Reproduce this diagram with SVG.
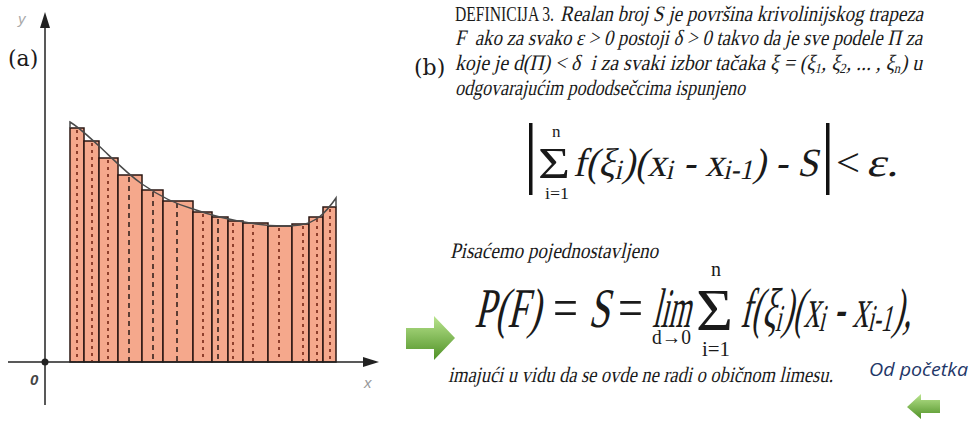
<svg xmlns="http://www.w3.org/2000/svg" width="974" height="421" viewBox="0 0 974 421">
<defs>
<style>
.bar{fill:#f5a88c;stroke:#2a1612;stroke-width:1.5}
.dd{stroke:#8e3f2c;stroke-width:2;stroke-dasharray:3 4;fill:none}
.dk{stroke:#2a1a16;stroke-width:1.5;stroke-dasharray:5 4;fill:none}
.ser{font-family:"Liberation Serif","Times New Roman",serif;fill:#1a1a1a;white-space:pre}
.lab{font-family:"DejaVu Serif","Liberation Serif",serif;font-size:22px;fill:#1a1a1a}
.ax{font-family:"Liberation Sans",Arial,sans-serif;font-style:italic;font-size:15px}
</style>
<linearGradient id="g" x1="0" y1="0" x2="0" y2="1">
<stop offset="0" stop-color="#b9e48e"/>
<stop offset="1" stop-color="#4f9126"/>
</linearGradient>
</defs>
<rect width="974" height="421" fill="#ffffff"/>

<g id="graph">
<g id="bars">
<rect class="bar" x="70" y="128" width="14" height="234"/>
<rect class="bar" x="84" y="141" width="15" height="221"/>
<rect class="bar" x="99" y="158" width="19" height="204"/>
<rect class="bar" x="118" y="175" width="24" height="187"/>
<rect class="bar" x="142" y="190" width="21" height="172"/>
<rect class="bar" x="163" y="201" width="30" height="161"/>
<rect class="bar" x="193" y="212" width="19" height="150"/>
<rect class="bar" x="212" y="217" width="16" height="145"/>
<rect class="bar" x="228" y="221" width="15" height="141"/>
<rect class="bar" x="243" y="223" width="25" height="139"/>
<rect class="bar" x="268" y="226" width="24" height="136"/>
<rect class="bar" x="292" y="224" width="17" height="138"/>
<rect class="bar" x="309" y="217" width="14" height="145"/>
<rect class="bar" x="323" y="207" width="13" height="155"/>
</g>
<g id="samples">
<line class="dd" x1="77" y1="130" x2="77" y2="362"/>
<line class="dd" x1="92" y1="143" x2="92" y2="362"/>
<line class="dd" x1="108" y1="160" x2="108" y2="362"/>
<line class="dk" x1="129" y1="177" x2="129" y2="362"/>
<line class="dk" x1="153" y1="192" x2="153" y2="362"/>
<line class="dk" x1="177" y1="203" x2="177" y2="362"/>
<line class="dd" x1="203" y1="214" x2="203" y2="362"/>
<line class="dk" x1="218" y1="219" x2="218" y2="362"/>
<line class="dd" x1="233" y1="223" x2="233" y2="362"/>
<line class="dd" x1="253" y1="225" x2="253" y2="362"/>
<line class="dd" x1="279" y1="228" x2="279" y2="362"/>
<line class="dd" x1="303" y1="226" x2="303" y2="362"/>
<line class="dd" x1="317" y1="219" x2="317" y2="362"/>
<line class="dd" x1="330" y1="209" x2="330" y2="362"/>
</g>
<path id="curve" d="M70,128 L70,122 C80,128 90,138 99,146 C110,156 125,172 142,184 C155,193 175,204 193,209 C210,215 230,220 250,223 C268,226 285,227 300,225 C315,223 325,214 336,198 L336,207" fill="none" stroke="#4a4a4a" stroke-width="1.5"/>
<g id="axes" stroke="#222" stroke-width="1.5">
<line x1="45" y1="405" x2="45" y2="24"/>
<line x1="8" y1="362" x2="368" y2="362"/>
</g>
<polygon points="45,12 40,28 50,28" fill="#222"/>
<polygon points="379,362 363,357 363,367" fill="#222"/>
<circle cx="45" cy="362" r="3.5" fill="#222"/>
<text class="ax" x="18" y="24" fill="#aaa">y</text>
<text class="ax" x="30" y="385" fill="#444" font-weight="bold">0</text>
<text class="ax" x="364" y="388" fill="#999">x</text>
<text class="lab" x="8" y="66">(a)</text>
</g>

<g id="definition">
<text class="lab" x="414" y="75">(b)</text>
<text class="ser" font-size="22" x="455" y="21" textLength="99" lengthAdjust="spacingAndGlyphs">DEFINICIJA 3.</text>
<g transform="translate(560,21) skewX(-13)"><text class="ser" font-size="22" x="0" y="0" textLength="363" lengthAdjust="spacingAndGlyphs">Realan broj S je površina krivolinijskog trapeza</text></g>
<g transform="translate(455,45) skewX(-13)"><text class="ser" font-size="22" x="0" y="0" textLength="467" lengthAdjust="spacingAndGlyphs">F  ako za svako ε &gt; 0 postoji δ &gt; 0 takvo da je sve podele Π za</text></g>
<g transform="translate(455,70) skewX(-13)"><text class="ser" font-size="22" x="0" y="0" textLength="467" lengthAdjust="spacingAndGlyphs">koje je d(Π) &lt; δ  i za svaki izbor tačaka ξ = (ξ<tspan font-size="14" dy="3">1</tspan><tspan dy="-3">, ξ</tspan><tspan font-size="14" dy="3">2</tspan><tspan dy="-3">, ... , ξ</tspan><tspan font-size="14" dy="3">n</tspan><tspan dy="-3">) u</tspan></text></g>
<g transform="translate(455,95) skewX(-13)"><text class="ser" font-size="22" x="0" y="0" textLength="290" lengthAdjust="spacingAndGlyphs">odgovarajućim pododsečcima ispunjeno</text></g>
</g>

<g id="formula1">
<rect x="529" y="123" width="3.5" height="72" fill="#111"/>
<rect x="826" y="123" width="3.5" height="72" fill="#111"/>
<text class="ser" font-size="17" x="552" y="137">n</text>
<text class="ser" font-size="44" x="538" y="178" textLength="32" lengthAdjust="spacingAndGlyphs">Σ</text>
<text class="ser" font-size="17" x="545" y="199" textLength="24" lengthAdjust="spacingAndGlyphs">i=1</text>
<g transform="translate(573,176) skewX(-13)"><text class="ser" font-size="40" x="0" y="0" textLength="245" lengthAdjust="spacingAndGlyphs">f(ξ<tspan font-size="28" dy="3">i</tspan><tspan dy="-3">)(x</tspan><tspan font-size="28" dy="3">i</tspan><tspan dy="-3"> - x</tspan><tspan font-size="28" dy="3">i-1</tspan><tspan dy="-3">) - S</tspan></text></g>
<text class="ser" font-size="40" x="836" y="176" textLength="24" lengthAdjust="spacingAndGlyphs">&lt;</text>
<g transform="translate(866,176) skewX(-13)"><text class="ser" font-size="40" x="0" y="0" textLength="32" lengthAdjust="spacingAndGlyphs">ε.</text></g>
</g>

<g id="formula2">
<g transform="translate(450,258) skewX(-13)"><text class="ser" font-size="22" x="0" y="0" textLength="208" lengthAdjust="spacingAndGlyphs">Pisaćemo pojednostavljeno</text></g>
<g transform="translate(474,327) skewX(-13)"><text class="ser" font-size="56" x="0" y="0" textLength="66" lengthAdjust="spacingAndGlyphs">P(F)</text></g>
<text class="ser" font-size="56" x="553" y="327" textLength="25" lengthAdjust="spacingAndGlyphs">=</text>
<g transform="translate(588,327) skewX(-13)"><text class="ser" font-size="56" x="0" y="0" textLength="21" lengthAdjust="spacingAndGlyphs">S</text></g>
<text class="ser" font-size="56" x="618" y="327" textLength="25" lengthAdjust="spacingAndGlyphs">=</text>
<g transform="translate(652,327) skewX(-13)"><text class="ser" font-size="56" x="0" y="0" textLength="38" lengthAdjust="spacingAndGlyphs">lim</text></g>
<text class="ser" font-size="20" x="652" y="344" textLength="39" lengthAdjust="spacingAndGlyphs">d→0</text>
<text class="ser" font-size="20" x="711" y="276">n</text>
<text class="ser" font-size="60" x="696" y="330" textLength="37" lengthAdjust="spacingAndGlyphs">Σ</text>
<text class="ser" font-size="20" x="702" y="356" textLength="28" lengthAdjust="spacingAndGlyphs">i=1</text>
<g transform="translate(740,327) skewX(-13)"><text class="ser" font-size="56" x="0" y="0" textLength="171" lengthAdjust="spacingAndGlyphs">f(ξ<tspan font-size="38" dy="4">i</tspan><tspan dy="-4">)(x</tspan><tspan font-size="38" dy="4">i</tspan><tspan dy="-4"> - x</tspan><tspan font-size="38" dy="4">i-1</tspan><tspan dy="-4">),</tspan></text></g>
<g transform="translate(448,382) skewX(-13)"><text class="ser" font-size="22" x="0" y="0" textLength="385" lengthAdjust="spacingAndGlyphs">imajući u vidu da se ovde ne radi o običnom limesu.</text></g>
</g>

<g id="nav">
<polygon id="next" points="406,328 434,328 434,316 455,338 434,360 434,349 406,349" fill="url(#g)"/>
<text font-family="'Open Sans','Liberation Sans',sans-serif" font-style="italic" font-size="19" fill="#1f3768" x="869" y="376" textLength="99" lengthAdjust="spacingAndGlyphs">Od početka</text>
<polygon id="back" points="940,400 921,400 921,394 907,407 921,419 921,413 940,413" fill="url(#g)"/>
</g>
</svg>
